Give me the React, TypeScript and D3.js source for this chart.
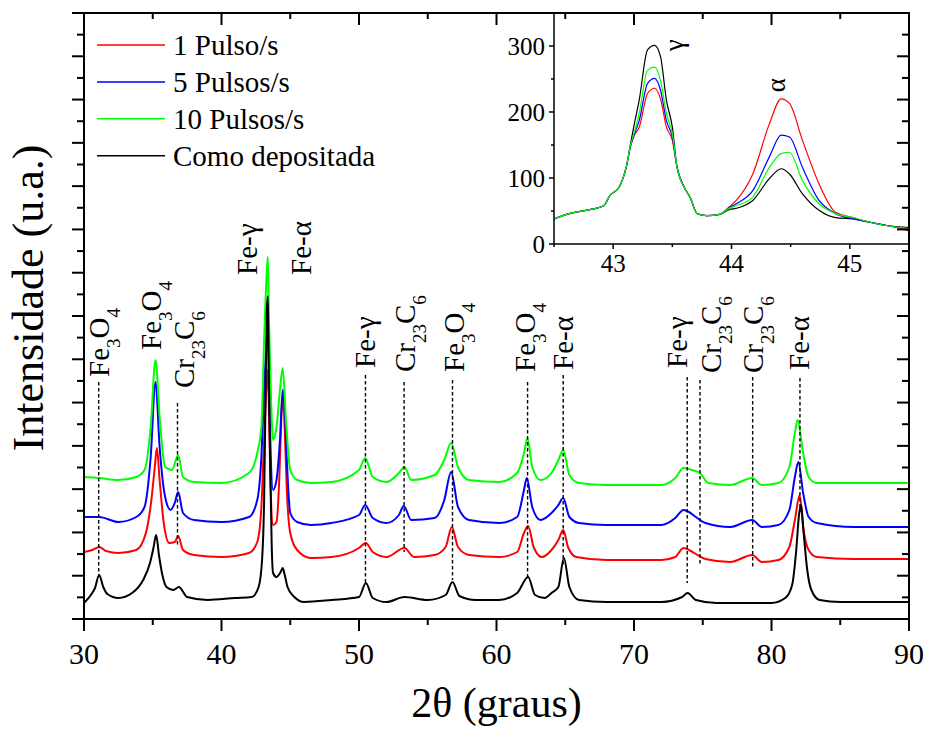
import React from 'react';
import * as d3 from 'd3';

const W = 928;
const H = 731;
const FONT = "'Liberation Serif', 'Times New Roman', Times, serif";

// ---------- data (2θ, intensity a.u.) ----------
const SERIES_NAMES = ['1 Pulso/s', '5 Pulsos/s', '10 Pulsos/s', 'Como depositada'];
const SERIES_COLORS = ['#ff0000', '#0000ff', '#00ff00', '#000000'];

const red1: [number, number][] = [
  [30, 67], [30.6, 69], [31.1, 72], [31.6, 68], [32.5, 66], [33.8, 69], [34.5, 86], [34.9, 119], [35.15, 152], [35.3, 171],
  [35.5, 139], [35.8, 96], [36.2, 76], [36.6, 77], [36.85, 83], [37.2, 69], [38, 64], [40, 62], [42, 66], [42.6, 77],
  [42.9, 112], [43.1, 179], [43.3, 239], [43.37, 249], [43.45, 209], [43.55, 144], [43.75, 94], [44.0, 97], [44.2, 139],
  [44.35, 199], [44.47, 224], [44.6, 189], [44.75, 129], [45.0, 86], [45.5, 69], [46.5, 61], [48, 62], [50.0, 71],
  [50.5, 76], [51, 67], [52, 62], [53.3, 71], [54, 62], [55.5, 64], [56.3, 72], [56.75, 92], [57.2, 72], [58, 64],
  [60.2, 62], [61.5, 67], [62.0, 86], [62.3, 93], [62.7, 72], [63.3, 62], [64.0, 69], [64.5, 79], [64.85, 89], [65.2, 72],
  [65.8, 62], [68, 59], [72, 59], [73.0, 62], [73.6, 71], [74.0, 69], [74.5, 65], [75.2, 60], [77, 57], [78.6, 64],
  [79.3, 57], [80.5, 59], [81.3, 72], [81.7, 99], [82.05, 124], [82.3, 92], [82.7, 69], [83.3, 62], [86, 60], [90, 60],
];

const blue5: [number, number][] = [
  [30, 102], [31.1, 102], [32.5, 97], [33.8, 102], [34.4, 112], [34.85, 162], [35.2, 237], [35.5, 172], [35.9, 122],
  [36.3, 109], [36.6, 116], [36.85, 127], [37.2, 106], [38, 99], [40, 97], [42, 102], [42.6, 119], [42.9, 162], [43.1, 229],
  [43.3, 279], [43.37, 284], [43.45, 239], [43.55, 179], [43.75, 129], [44.0, 139], [44.25, 179], [44.45, 229], [44.6, 209],
  [44.75, 159], [45.0, 106], [45.5, 97], [46.5, 94], [48, 96], [50, 104], [50.45, 114], [51, 101], [52, 96], [52.9, 104],
  [53.25, 113], [53.8, 99], [55.5, 101], [56.2, 119], [56.7, 147], [57.2, 112], [58, 99], [60.2, 96], [61.5, 102],
  [62.0, 129], [62.2, 141], [62.6, 112], [63.2, 99], [64, 106], [64.5, 114], [64.85, 121], [65.3, 102], [66, 96], [68, 94],
  [72, 94], [73, 101], [73.6, 109], [74, 107], [74.5, 102], [75.2, 96], [77, 92], [78.6, 99], [79.3, 92], [80.5, 94],
  [81.3, 109], [81.7, 142], [81.95, 157], [82.3, 126], [82.7, 102], [83.3, 96], [86, 92], [90, 92],
];

const green10: [number, number][] = [
  [30, 142], [31.1, 141], [32.5, 139], [33.8, 142], [34.4, 149], [34.85, 192], [35.2, 259], [35.5, 202], [35.9, 152],
  [36.4, 149], [36.85, 164], [37.2, 142], [38, 137], [40, 136], [42, 146], [42.6, 166], [42.9, 192], [43.1, 279], [43.3, 349],
  [43.37, 362], [43.45, 299], [43.55, 246], [43.75, 179], [44.0, 192], [44.25, 229], [44.45, 251], [44.7, 196], [45.0, 149],
  [45.5, 139], [46.5, 136], [48, 137], [50, 149], [50.45, 161], [51, 142], [52, 137], [52.9, 146], [53.3, 152], [53.8, 139],
  [55.5, 144], [56.2, 159], [56.7, 176], [57.2, 152], [58, 139], [60.2, 137], [61.5, 146], [62.0, 166], [62.25, 181],
  [62.6, 152], [63.2, 139], [64, 146], [64.5, 159], [64.85, 169], [65.3, 144], [66, 136], [68, 134], [72, 134], [73, 141],
  [73.6, 151], [74.2, 149], [74.8, 146], [75.4, 136], [77, 134], [78.6, 141], [79.3, 134], [80.5, 136], [81.3, 152],
  [81.7, 186], [81.9, 199], [82.3, 166], [82.7, 142], [83.3, 136], [86, 136], [90, 136],
];

const asDeposited: [number, number][] = [
  [30.0, 16], [30.5, 24], [30.8, 31], [31.1, 44], [31.4, 32], [31.7, 25], [32.5, 21], [33.5, 26], [34.3, 39], [34.8, 56],
  [35.05, 71], [35.25, 84], [35.45, 64], [35.7, 44], [36.0, 32], [36.5, 29], [36.9, 32], [37.5, 22], [39, 19], [41, 21],
  [42.2, 22], [42.7, 32], [42.95, 59], [43.1, 119], [43.2, 219], [43.3, 309], [43.37, 323], [43.45, 239], [43.55, 146],
  [43.65, 74], [43.75, 46], [44.0, 42], [44.3, 47], [44.45, 51], [44.6, 44], [44.8, 32], [45.3, 22], [46, 17], [48, 19],
  [50.0, 22], [50.5, 36], [51.0, 21], [52, 17], [53.3, 22], [55, 19], [56.3, 24], [56.8, 37], [57.3, 23], [58.5, 19],
  [60.2, 19], [61.5, 26], [62.3, 42], [62.8, 24], [63.5, 21], [64.0, 26], [64.5, 32], [64.9, 61], [65.3, 32], [66, 19],
  [68, 17], [72, 17], [73.5, 22], [73.9, 26], [74.5, 19], [76, 16], [80, 16], [81.0, 21], [81.5, 34], [81.8, 69],
  [82.0, 104], [82.15, 114], [82.35, 84], [82.6, 49], [82.9, 29], [83.5, 19], [85, 17], [90, 17],
];

// inset (counts) 42.5–45.5°
const insetRed: [number, number][] = [
  [42.5, 38], [42.63, 46], [42.77, 51], [42.92, 58], [42.97, 73], [43.05, 86], [43.11, 116], [43.15, 150], [43.18, 165],
  [43.22, 177], [43.29, 228], [43.35, 236], [43.4, 220], [43.45, 177], [43.5, 157], [43.54, 116], [43.6, 86], [43.65, 71],
  [43.71, 46], [43.79, 43], [43.9, 45], [43.98, 56], [44.04, 66], [44.18, 106], [44.32, 182], [44.42, 220], [44.49, 213],
  [44.6, 157], [44.74, 91], [44.88, 48], [45.03, 40], [45.17, 33], [45.31, 28], [45.5, 20],
];
const insetBlue: [number, number][] = [
  [42.5, 38], [42.63, 46], [42.77, 51], [42.92, 58], [42.97, 73], [43.05, 86], [43.11, 116], [43.15, 151], [43.18, 167],
  [43.22, 187], [43.29, 243], [43.35, 251], [43.4, 233], [43.45, 187], [43.5, 162], [43.54, 116], [43.6, 86], [43.65, 71],
  [43.71, 46], [43.79, 43], [43.9, 45], [43.98, 55], [44.04, 61], [44.18, 81], [44.32, 132], [44.42, 165], [44.49, 162],
  [44.6, 116], [44.74, 66], [44.88, 46], [45.03, 38], [45.17, 33], [45.31, 28], [45.5, 23],
];
const insetGreen: [number, number][] = [
  [42.5, 38], [42.63, 46], [42.77, 51], [42.92, 58], [42.97, 73], [43.05, 86], [43.11, 116], [43.15, 152], [43.18, 170],
  [43.22, 198], [43.29, 263], [43.35, 268], [43.4, 248], [43.45, 198], [43.5, 167], [43.54, 116], [43.6, 86], [43.65, 71],
  [43.71, 46], [43.79, 43], [43.9, 45], [43.98, 54], [44.04, 58], [44.18, 71], [44.32, 116], [44.42, 137], [44.49, 139],
  [44.6, 96], [44.74, 61], [44.88, 46], [45.03, 40], [45.17, 33], [45.31, 28], [45.5, 23],
];
const insetBlack: [number, number][] = [
  [42.5, 38], [42.63, 46], [42.77, 51], [42.92, 58], [42.97, 73], [43.05, 86], [43.11, 116], [43.15, 155], [43.18, 183],
  [43.22, 218], [43.29, 294], [43.35, 301], [43.4, 284], [43.45, 218], [43.5, 177], [43.54, 116], [43.6, 86], [43.65, 71],
  [43.71, 46], [43.79, 43], [43.9, 45], [43.98, 52], [44.04, 54], [44.18, 66], [44.32, 99], [44.42, 114], [44.49, 106],
  [44.6, 76], [44.74, 51], [44.88, 40], [45.03, 38], [45.17, 33], [45.31, 28], [45.5, 25],
];

// annotations: [label, 2θ of label, intensity at label start]
const PEAK_LABELS: [string, number, number][] = [
  ['Fe3O4', 31.14, 242], ['Fe3O4', 34.9, 269], ['Cr23C6', 37.33, 231], ['Fe-γ', 41.9, 344], ['Fe-α', 45.8, 344],
  ['Fe-γ', 50.5, 251], ['Cr23C6', 53.39, 247], ['Fe3O4', 56.97, 247], ['Fe3O4', 62.1, 247], ['Fe-α', 64.9, 249],
  ['Fe-γ', 73.19, 251], ['Cr23C6', 75.65, 246], ['Cr23C6', 78.65, 246], ['Fe-α', 82.0, 249],
];
// dashed reference lines: [2θ, top intensity, bottom intensity]
const PEAK_LINES: [number, number, number][] = [
  [31.07, 237, 42], [36.8, 216, 73], [50.47, 244, 36], [53.28, 237, 67], [56.8, 239, 39], [62.26, 237, 42],
  [64.85, 244, 52], [73.87, 242, 36], [74.8, 239, 54], [78.63, 242, 51], [82.07, 241, 107],
];

const X_MAJOR = [30, 40, 50, 60, 70, 80, 90];
const X_MINOR = [35, 45, 55, 65, 75, 85];
const Y_TICK_N = 28;
const INSET_X_MAJOR = [43, 44, 45];
const INSET_X_MINOR = [42.5, 43.5, 44.5, 45.5];
const INSET_Y_MAJOR = [0, 100, 200, 300];
const INSET_Y_MINOR = [50, 150, 250];
const INSET_LABELS: [string, number, number][] = [['γ', 43.54, 292], ['α', 44.4, 230]];

// ---------- layout ----------
const PL = 84, PR = 909, PT = 13, PB = 619;
const IL = 554, IB = 244;

function segments(label: string) {
  const parts: { t: string; sub: boolean }[] = [];
  const re = /(\d+|[^\d]+)/g;
  let m;
  while ((m = re.exec(label))) parts.push({ t: m[0], sub: /\d/.test(m[0]) });
  return parts;
}

const TXT = { fontFamily: FONT };

export default function App() {
  const x = d3.scaleLinear().domain([30, 90]).range([PL, PR]);
  const y = d3.scaleLinear().domain([0, 606]).range([PB, PT]);
  const yTicks = d3.range(0, Y_TICK_N + 1).map((i) => (i * 606) / Y_TICK_N);

  const ix = d3.scaleLinear().domain([42.5, 45.5]).range([IL, PR]);
  const iy = d3.scaleLinear().domain([0, 350]).range([IB, PT]);

  const line = d3.line<[number, number]>().x((d) => x(d[0])).y((d) => y(d[1])).curve(d3.curveMonotoneX);
  const iline = d3.line<[number, number]>().x((d) => ix(d[0])).y((d) => iy(d[1])).curve(d3.curveMonotoneX);

  const main = [red1, blue5, green10, asDeposited];
  const inset = [insetBlack, insetRed, insetBlue, insetGreen];
  const insetColors = ['#000000', '#ff0000', '#0000ff', '#00ff00'];

  const capHalf = 0.662 * 29 / 2;

  return (
    <svg width={W} height={H} style={{ position: 'absolute', left: 0, top: 0, background: '#fff', fontFamily: FONT }}>
      <rect x={0} y={0} width={W} height={H} fill="#fff" />
      {/* main curves */}
      {main.map((s, i) => (
        <path key={i} d={line(s) || ''} fill="none" stroke={SERIES_COLORS[i]} strokeWidth={2} strokeLinejoin="round" />
      ))}
      {/* dashed lines */}
      {PEAK_LINES.map(([px, t, b], i) => (
        <line key={i} x1={x(px)} x2={x(px)} y1={y(t)} y2={y(b)} stroke="#000" strokeWidth={1.4} strokeDasharray="3.5 2.5" />
      ))}
      {/* peak labels */}
      {PEAK_LABELS.map(([lab, px, v], i) => {
        const segs = segments(lab);
        let prevSub = false;
        return (
          <text key={i} style={TXT} transform={`translate(${x(px) + capHalf},${y(v)}) rotate(-90)`} fontSize={29} fill="#000">
            {segs.map((s, j) => {
              const dy = s.sub ? (prevSub ? 0 : 11) : prevSub ? -11 : 0;
              prevSub = s.sub;
              return (
                <tspan key={j} dy={dy} fontSize={s.sub ? 19 : 29}>
                  {s.t}
                </tspan>
              );
            })}
          </text>
        );
      })}

      {/* inset */}
      <rect x={IL} y={PT} width={PR - IL} height={IB - PT} fill="#fff" />
      {inset.map((s, i) => (
        <path key={i} d={iline(s) || ''} fill="none" stroke={insetColors[i]} strokeWidth={1.2} strokeLinejoin="round" />
      ))}
      <line x1={IL} x2={IL} y1={PT} y2={IB} stroke="#000" strokeWidth={1.5} />
      <line x1={IL} x2={PR} y1={IB} y2={IB} stroke="#000" strokeWidth={1.5} />
      {INSET_Y_MAJOR.map((v) => (
        <g key={'iym' + v}>
          <line x1={IL - 5} x2={IL} y1={iy(v)} y2={iy(v)} stroke="#000" strokeWidth={1.5} />
          <text style={TXT} x={IL - 9} y={iy(v) + 8.5} fontSize={25} textAnchor="end">{v}</text>
        </g>
      ))}
      {INSET_Y_MINOR.map((v) => (
        <line key={'iyn' + v} x1={IL - 3} x2={IL} y1={iy(v)} y2={iy(v)} stroke="#000" strokeWidth={1.5} />
      ))}
      {INSET_X_MAJOR.map((v) => (
        <g key={'ixm' + v}>
          <line x1={ix(v)} x2={ix(v)} y1={IB} y2={IB + 5} stroke="#000" strokeWidth={1.5} />
          <text style={TXT} x={ix(v)} y={IB + 28} fontSize={25} textAnchor="middle">{v}</text>
        </g>
      ))}
      {INSET_X_MINOR.map((v) => (
        <line key={'ixn' + v} x1={ix(v)} x2={ix(v)} y1={IB} y2={IB + 3} stroke="#000" strokeWidth={1.5} />
      ))}
      {INSET_LABELS.map(([t, px, v], i) => (
        <text key={i} style={TXT} transform={`translate(${ix(px) + 6},${iy(v)}) rotate(-90)`} fontSize={27}>{t}</text>
      ))}

      {/* frame */}
      <rect x={PL} y={PT} width={PR - PL} height={PB - PT} fill="none" stroke="#000" strokeWidth={2} />
      {X_MAJOR.map((v) => (
        <g key={'xm' + v}>
          <line x1={x(v)} x2={x(v)} y1={PB} y2={PB + 12} stroke="#000" strokeWidth={2} />
          <line x1={x(v)} x2={x(v)} y1={PT} y2={PT + 12} stroke="#000" strokeWidth={2} />
          <text style={TXT} x={x(v)} y={664} fontSize={30} textAnchor="middle">{v}</text>
        </g>
      ))}
      {X_MINOR.map((v) => (
        <g key={'xn' + v}>
          <line x1={x(v)} x2={x(v)} y1={PB} y2={PB + 6} stroke="#000" strokeWidth={2} />
          <line x1={x(v)} x2={x(v)} y1={PT} y2={PT + 6} stroke="#000" strokeWidth={2} />
        </g>
      ))}
      {yTicks.map((v, i) => {
        const len = i % 2 === 0 ? 12 : 7;
        return (
          <g key={'yt' + i}>
            <line x1={PL - len} x2={PL} y1={y(v)} y2={y(v)} stroke="#000" strokeWidth={2} />
            <line x1={PR - len} x2={PR} y1={y(v)} y2={y(v)} stroke="#000" strokeWidth={2} />
          </g>
        );
      })}

      {/* legend */}
      {SERIES_NAMES.map((n, i) => {
        const ly = 45 + i * 36.9;
        return (
          <g key={'lg' + i}>
            <line x1={97} x2={165} y1={ly} y2={ly} stroke={SERIES_COLORS[i]} strokeWidth={1.5} />
            <text style={TXT} x={173} y={ly + 10} fontSize={29}>{n}</text>
          </g>
        );
      })}

      {/* axis titles */}
      <text style={TXT} x={(PL + PR) / 2} y={717} fontSize={42} textAnchor="middle">2θ (graus)</text>
      <text style={TXT} transform={`translate(43,298) rotate(-90)`} fontSize={44} textAnchor="middle">Intensidade (u.a.)</text>
    </svg>
  );
}
